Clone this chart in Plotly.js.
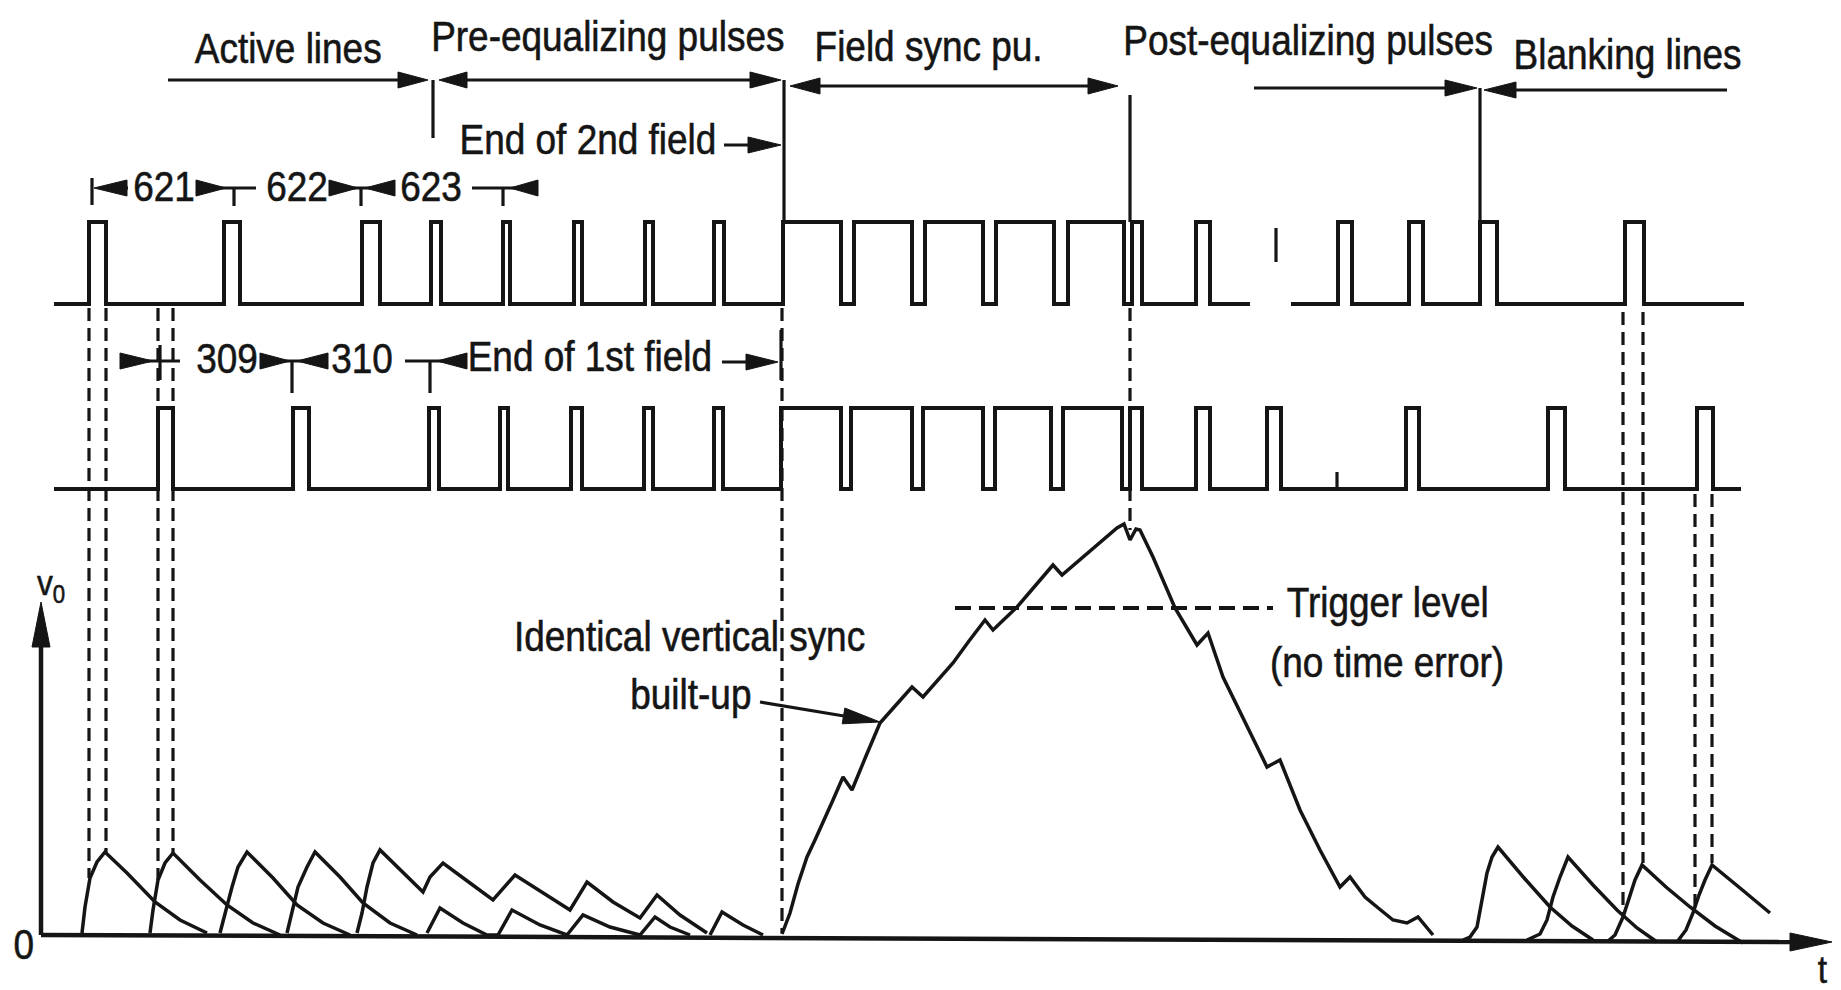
<!DOCTYPE html>
<html><head><meta charset="utf-8">
<script src="https://cdn.plot.ly/plotly-3.0.1.min.js"></script>
<style>html,body{margin:0;padding:0;background:#fff;overflow:hidden}#chart{width:1841px;height:990px}</style>
</head><body><div id="chart"></div>
<script>
// ---------------- data (diagram time / level units) ----------------
// 2nd field pulse train (upper): intervals where the signal is high
const field2High = [[89,106],[224,240],[362,380],[431,441],[503,510],[574,582],[645,653],[714,724],
  [783,841],[854,912],[925,983],[996,1054],[1068,1124],
  [1132,1142],[1196,1210],[1338,1352],[1409,1423],[1480,1497],[1625,1644]];
const field2Span = [54, 1744];
const field2Gap = [1250, 1291];
// 1st field pulse train (lower)
const field1High = [[158,173],[293,309],[429,439],[500,508],[571,582],[644,653],[714,723],
  [781,841],[851,912],[923,983],[995,1051],[1063,1122],
  [1130,1142],[1196,1210],[1267,1281],[1406,1419],[1548,1565],[1697,1713]];
const field1Span = [54, 1741];

// integrator output v0 (time, level) for each ramp
const rampA = [[82,933],[85,907],[90,878],[97,862],[105,852],[127,873],[155,902],[180,920],[207,933]];
const rampB = [[150,933],[153,910],[158,880],[165,863],[173,853],[200,880],[227,905],[253,923],[280,935]];
const rampC = [[220,933],[225,913],[232,887],[238,867],[247,852],[273,878],[297,905],[323,923],[350,935]];
const rampD = [[287,933],[292,913],[298,887],[307,867],[315,852],[340,877],[363,903],[390,923],[417,935]];
const rampUpper = [[357,933],[362,913],[367,887],[373,863],[380,850],[403,872],[423,892],[430,877],[443,863],
  [470,883],[493,900],[515,875],[543,893],[570,910],[587,882],[613,902],[640,918],[657,895],[680,915],[707,933]];
const rampLower = [[427,933],[440,908],[463,923],[487,935],[498,935],[512,910],[540,925],[567,935],[583,915],
  [610,927],[640,935],[655,917],[670,927],[690,935]];
const rampLast = [[710,935],[722,912],[743,925],[763,935]];
const vsyncBuildUp = [[782,934],[790,913],[798,884],[807,857],[815,840],[823,823],[833,800],[843,777],[852,790],
  [866,756],[880,723],[896,705],[912,687],[923,697],[938,680],[953,663],[969,641],[985,620],[993,630],[1005,618],
  [1017,607],[1035,586],[1053,565],[1062,575],[1090,551],[1117,528],[1124,524],[1130,540],[1136,529],[1140,530],
  [1153,557],[1175,608],[1197,645],[1208,633],[1223,677],[1245,722],[1267,767],[1280,760],[1300,810],[1320,850],
  [1340,887],[1350,877],[1365,897],[1377,907],[1393,920],[1407,923],[1418,917],[1433,935]];
const rampR1 = [[1463,940],[1470,937],[1477,927],[1482,900],[1487,873],[1492,857],[1498,847],[1525,879],[1550,907],[1572,926],[1593,940]];
const rampR2 = [[1527,940],[1540,934],[1547,920],[1553,897],[1560,877],[1568,857],[1593,885],[1617,910],[1637,928],[1657,942]];
const rampR3 = [[1607,942],[1615,935],[1623,917],[1630,895],[1635,880],[1642,865],[1666,887],[1690,907],[1715,926],[1743,943]];
const rampR4 = [[1677,942],[1686,930],[1693,913],[1699,895],[1705,880],[1712,865],[1740,888],[1770,913]];
const triggerLevel = 608;

// text
const headerLabels = ["Active lines", "Pre-equalizing pulses", "Field sync pu.", "Post-equalizing pulses", "Blanking lines"];
const field2LineNumbers = ["621", "622", "623"];
const field1LineNumbers = ["309", "310"];
const fieldEndLabels = ["End of 2nd field", "End of 1st field"];
const rampLabels = ["Identical vertical sync", "built-up", "Trigger level", "(no time error)"];
const axisLabels = ["v<sub>0</sub>", "0", "t"];

// ---------------- drawing ----------------
const INK = "#151515";
const FONT = "'Liberation Sans', Arial, Helvetica, sans-serif";
const TRAIN = {f2Low: 304, f2High: 222, f1Low: 489, f1High: 408};

function trainPath(span, highs, low, high, gap) {
  const x = [span[0]], y = [low];
  let gapDone = !gap;
  for (const [a, b] of highs) {
    if (!gapDone && a > gap[0]) {
      x.push(gap[0], null, gap[1]); y.push(low, null, low); gapDone = true;
    }
    x.push(a, a, b, b); y.push(low, high, high, low);
  }
  x.push(span[1]); y.push(low);
  x.push(null); y.push(null);
  return {x, y};
}
function polyPath(list) {
  const x = [], y = [];
  for (const pts of list) { for (const p of pts) { x.push(p[0]); y.push(p[1]); } x.push(null); y.push(null); }
  return {x, y};
}
function segPath(segs) {
  return polyPath(segs.map(s => [[s[0], s[1]], [s[2], s[3]]]));
}
function heads(list) { // [tipX, tipY, dirX, dirY, len, half]
  const x = [], y = [];
  for (const [tx, ty, dx0, dy0, len, half] of list) {
    const n = Math.hypot(dx0, dy0), dx = dx0 / n, dy = dy0 / n;
    const bx = tx - dx * len, by = ty - dy * len;
    x.push(tx, bx - dy * half, bx + dy * half, tx, null);
    y.push(ty, by + dx * half, by - dx * half, ty, null);
  }
  return {x, y};
}
function lineTrace(p, width, dash) {
  return {type: "scatter", mode: "lines", x: p.x, y: p.y, hoverinfo: "skip", connectgaps: false,
    line: {color: INK, width: width, dash: dash || "solid"}};
}

const t2 = trainPath(field2Span, field2High, TRAIN.f2Low, TRAIN.f2High, field2Gap);
const t1 = trainPath(field1Span, field1High, TRAIN.f1Low, TRAIN.f1High, null);
const ramps = polyPath([rampA, rampB, rampC, rampD, rampUpper, rampLower, rampLast, vsyncBuildUp, rampR1, rampR2, rampR3, rampR4]);

// marker lines (solid)
const solidSegs = [
  [168,80,405,80], [455,80,760,80], [433,80,433,138], [784,80,784,222],
  [805,86,1100,86], [1130,95,1130,222], [1254,88,1460,88], [1500,90,1727,90], [1480,88,1480,224],
  [724,145,760,145],
  [92,178,92,205], [110,188,128,188], [196,188,256,188], [234,188,234,206], [329,188,395,188], [361,188,361,206],
  [472,188,520,188], [503,188,503,206],
  [120,361,180,361], [160,345,160,380], [260,361,328,361], [292,361,292,393], [405,361,467,361], [430,361,430,393],
  [722,362,760,362], [781,330,781,380],
  [1276,228,1276,262], [1337,472,1337,490],
  [760,702,850,717]
];
const axisSegs = [[41,935,1795,942], [41,935,41,640]];
const dashSegs = [
  [89,308,878], [106,308,852], [158,308,880], [173,308,853], [782,308,933], [1130,308,530],
  [1623,312,913], [1643,312,863], [1695,494,910], [1712,494,863]
].map(d => [d[0], d[1], d[0], d[2]]);

const arrowHeads = heads([
  [428,80,1,0,30,8], [439,80,-1,0,28,8], [781,80,1,0,31,8], [790,86,-1,0,30,8], [1118,86,1,0,30,8],
  [1477,88,1,0,32,8], [1484,90,-1,0,32,8], [781,145,1,0,33,8],
  [94,188,-1,0,33,8], [226,188,1,0,30,8], [358,188,1,0,29,8], [365,188,-1,0,30,8], [510,188,-1,0,28,8],
  [153,361,1,0,33,8], [290,361,1,0,30,8], [297,361,-1,0,31,8], [437,361,-1,0,30,8], [778,362,1,0,32,8],
  [880,722,120,20,37,8],
  [1832,942,1,0,42,9], [41,602,0,-1,45,9]
]);

const traces = [
  lineTrace(t2, 4), lineTrace(t1, 4), lineTrace(ramps, 3.5),
  lineTrace(segPath(solidSegs), 3.2), lineTrace(segPath(axisSegs), 4.5),
  lineTrace(segPath(dashSegs), 3.2, "13px,7px"),
  lineTrace(segPath([[955, triggerLevel, 1273, triggerLevel]]), 3.8, "16px,8px"),
  {type: "scatter", mode: "lines", x: arrowHeads.x, y: arrowHeads.y, fill: "toself", fillcolor: INK,
   line: {color: INK, width: 1}, hoverinfo: "skip"}
];

function ann(text, x, y, size, xanchor) {
  return {text: text, x: x, y: y, xref: "x", yref: "y", showarrow: false, xanchor: xanchor || "center", yanchor: "middle",
    font: {family: FONT, size: size, color: INK}};
}
const S = 42;
const annotations = [
  ann(headerLabels[0], 288, 48, S), ann(headerLabels[1], 608, 36, S), ann(headerLabels[2], 928, 46, S),
  ann(headerLabels[3], 1308, 40, S), ann(headerLabels[4], 1627, 54, S),
  ann(fieldEndLabels[0], 588, 139, S), ann(fieldEndLabels[1], 590, 356, S),
  ann(field2LineNumbers[0], 164, 186, S), ann(field2LineNumbers[1], 297, 186, S), ann(field2LineNumbers[2], 431, 186, S),
  ann(field1LineNumbers[0], 227, 358, S), ann(field1LineNumbers[1], 362, 358, S),
  ann(rampLabels[0], 689, 636, S), ann(rampLabels[1], 691, 694, S),
  ann(rampLabels[2], 1388, 602, S), ann(rampLabels[3], 1387, 662, S),
  ann(axisLabels[0], 51, 585, 36), ann(axisLabels[1], 23, 944, 42), ann(axisLabels[2], 1830, 970, 38, "right")
];

const layout = {
  width: 1841, height: 990, margin: {l: 0, r: 0, t: 0, b: 0, pad: 0},
  paper_bgcolor: "#ffffff", plot_bgcolor: "#ffffff", showlegend: false,
  xaxis: {range: [0, 1841], visible: false, fixedrange: true},
  yaxis: {range: [990, 0], visible: false, fixedrange: true},
  annotations: annotations
};
Plotly.newPlot("chart", traces, layout, {staticPlot: true, displayModeBar: false}).then(function (gd) {
  // the reference lettering is a condensed, heavy sans: narrow each label around its own centre
  gd.querySelectorAll(".annotation-text").forEach(function (t) {
    t.style.transformBox = "fill-box";
    t.style.transformOrigin = "center";
    t.style.transform = "scaleX(0.88)";
    t.style.stroke = INK;
    t.style.strokeWidth = "0.6px";
  });
});
</script></body></html>
